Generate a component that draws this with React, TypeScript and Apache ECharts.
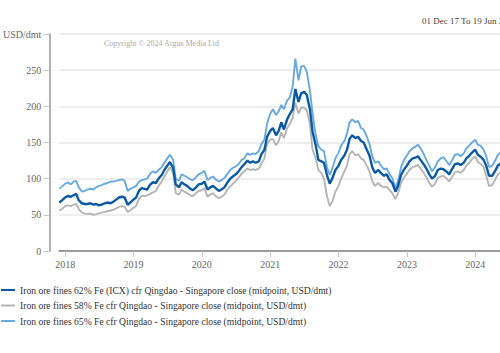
import React, { useEffect, useRef } from "react";
import * as echarts from "echarts";

// semi-monthly observation dates (1st and 15th), Dec 2017 .. Jun 2024, plus final 19 Jun 2024
const dates: number[] = [];
for (let y = 2017; y <= 2024; y++) {
  for (let m = 0; m < 12; m++) {
    if (y === 2017 && m < 11) continue;
    if (y === 2024 && m > 5) continue;
    dates.push(Date.UTC(y, m, 1));
    dates.push(Date.UTC(y, m, 15));
  }
}
dates.push(Date.UTC(2024, 5, 19));

const fe62: number[] = [
  67, 70,
  74, 76, 75, 77, 79, 70, 66, 65, 65, 66, 64, 65, 63, 64, 66, 67, 66, 68, 71, 74, 75, 74, 64, 67,
  71, 74, 84, 87, 86, 85, 92, 95, 94, 100, 105, 112, 118, 123, 115, 92, 88, 95, 92, 90, 86, 84, 88, 92,
  93, 96, 85, 88, 90, 87, 83, 85, 88, 94, 100, 103, 106, 110, 116, 120, 125, 122, 124, 122, 124, 134, 140, 158,
  166, 170, 160, 166, 178, 168, 182, 189, 196, 224, 206, 218, 220, 216, 196, 165, 146, 126, 124, 122, 104, 93, 102, 112,
  118, 126, 132, 140, 155, 160, 156, 158, 152, 150, 140, 132, 115, 108, 112, 108, 104, 106, 98, 94, 82, 90, 105, 112,
  118, 124, 128, 129, 131, 126, 120, 114, 106, 100, 104, 112, 114, 113, 110, 106, 114, 120, 121, 119, 122, 128, 132, 136,
  140, 133, 130, 126, 117, 104, 104, 110, 118, 121, 112, 108, 107,
];

const fe58: number[] = [
  56, 58,
  62, 63, 62, 64, 65, 58, 53, 52, 51, 52, 50, 51, 52, 53, 54, 55, 56, 57, 59, 61, 62, 61, 54, 56,
  60, 62, 73, 76, 76, 77, 79, 81, 83, 90, 96, 103, 110, 116, 108, 80, 78, 85, 82, 80, 77, 76, 80, 83,
  84, 87, 75, 78, 80, 76, 73, 75, 78, 84, 89, 93, 97, 101, 107, 110, 114, 112, 113, 112, 114, 121, 128, 148,
  154, 155, 146, 152, 164, 156, 170, 175, 184, 205, 190, 198, 198, 195, 176, 140, 128, 112, 108, 100, 75, 62, 70, 82,
  90, 100, 110, 118, 134, 138, 132, 134, 128, 126, 118, 110, 96, 90, 94, 90, 88, 89, 84, 80, 72, 80, 94, 101,
  107, 112, 116, 117, 119, 114, 108, 102, 94, 89, 93, 101, 103, 104, 100, 96, 103, 109, 110, 108, 112, 118, 122, 127,
  131, 123, 120, 116, 103, 90, 91, 98, 106, 108, 102, 99, 98,
];

const fe65: number[] = [
  86, 89,
  93, 95, 92, 96, 97, 88, 82, 83, 85, 86, 85, 88, 90, 91, 93, 94, 96, 96, 97, 98, 99, 97, 83, 86,
  88, 90, 96, 98, 99, 100, 107, 110, 108, 112, 116, 122, 128, 133, 126, 100, 97, 106, 104, 102, 99, 98, 102, 106,
  108, 111, 98, 101, 103, 99, 96, 98, 101, 106, 112, 115, 117, 120, 126, 128, 135, 133, 135, 134, 138, 148, 154, 176,
  190, 196, 188, 193, 202, 196, 208, 212, 228, 266, 236, 255, 256, 248, 222, 190, 160, 145, 140, 138, 115, 105, 116, 128,
  136, 146, 152, 162, 178, 182, 178, 180, 170, 168, 158, 148, 130, 122, 124, 118, 113, 114, 106, 101, 87, 97, 116, 125,
  132, 138, 142, 144, 147, 142, 134, 126, 118, 110, 116, 124, 128, 130, 124, 119, 126, 133, 134, 131, 135, 142, 146, 150,
  154, 147, 145, 140, 130, 116, 118, 124, 133, 136, 126, 121, 120,
];

const yearLabels: number[] = [2018, 2019, 2020, 2021, 2022, 2023, 2024];
const yearTicks: number[] = yearLabels.map((y) => Date.UTC(y, 0, 1));

const seriesNames = [
  "Iron ore fines 62% Fe (ICX) cfr Qingdao - Singapore close (midpoint, USD/dmt)",
  "Iron ore fines 58% Fe cfr Qingdao - Singapore close (midpoint, USD/dmt)",
  "Iron ore fines 65% Fe cfr Qingdao - Singapore close (midpoint, USD/dmt)",
];
const seriesColors = ["#0b5aa5", "#b5b5b5", "#68aadf"];
const seriesData = [fe62, fe58, fe65];

const FONT = "'Liberation Serif', 'Times New Roman', serif";

export default function App() {
  const ref = useRef<HTMLDivElement>(null);
  useEffect(() => {
    if (!ref.current) return;
    const chart = echarts.init(ref.current, null, { renderer: "svg" });
    chart.setOption({
      animation: false,
      title: {
        text: "01 Dec 17 To 19 Jun 2024",
        left: 417,
        top: 11,
        textStyle: { fontSize: 9, fontWeight: "normal", color: "#444", fontFamily: FONT },
      },
      graphic: [
        {
          type: "text",
          x: 104,
          y: 43,
          style: {
            text: "Copyright © 2024 Argus Media Ltd",
            fontSize: 8,
            fill: "#aaa",
            fontFamily: FONT,
            textVerticalAlign: "middle",
          },
        },
      ],
      legend: {
        orient: "vertical",
        left: 1,
        top: 285,
        padding: 0,
        itemGap: 5.5,
        itemWidth: 14,
        itemHeight: 2,
        icon: "rect",
        textStyle: { fontSize: 9.6, color: "#333", fontFamily: FONT },
        data: seriesNames,
      },
      grid: { left: 57, top: 34, width: 450, height: 217 },
      xAxis: {
        type: "value",
        min: Date.UTC(2017, 11, 1),
        max: Date.UTC(2024, 5, 19),
        axisLine: { show: true, onZero: false, lineStyle: { color: "#9a9a9a", width: 2 } },
        axisTick: { show: true, length: 6, lineStyle: { color: "#c8c8c8" }, customValues: yearTicks },
        axisLabel: {
          customValues: yearTicks,
          formatter: (v: number) => String(new Date(v).getUTCFullYear()),
          fontSize: 10,
          color: "#666",
          fontFamily: FONT,
          margin: 8,
        },
        splitLine: { show: false },
      },
      yAxis: {
        type: "value",
        min: 0,
        max: 300,
        interval: 50,
        offset: 10,
        axisLine: { show: true, lineStyle: { color: "#9a9a9a", width: 1.5 } },
        axisTick: { show: true, length: 6, lineStyle: { color: "#c8c8c8" } },
        axisLabel: {
          formatter: (v: number) => (v === 300 ? "USD/dmt" : String(v)),
          fontSize: 10,
          color: "#666",
          fontFamily: FONT,
          margin: 8,
        },
        splitLine: { show: true, lineStyle: { color: "#e8e8e8", width: 1.5 } },
      },
      series: seriesNames.map((name, i) => ({
        name,
        type: "line",
        showSymbol: false,
        symbol: "none",
        data: dates.map((d, j) => [d, seriesData[i][j]]),
        lineStyle: { color: seriesColors[i], width: i === 0 ? 2.4 : 1.9 },
        itemStyle: { color: seriesColors[i] },
        z: i === 0 ? 3 : 2,
      })),
    });
    return () => chart.dispose();
  }, []);
  return (
    <div style={{ position: "absolute", left: 0, top: 0, width: 500, height: 353, overflow: "hidden", background: "#fff" }}>
      <div ref={ref} style={{ width: 540, height: 353 }} />
    </div>
  );
}
